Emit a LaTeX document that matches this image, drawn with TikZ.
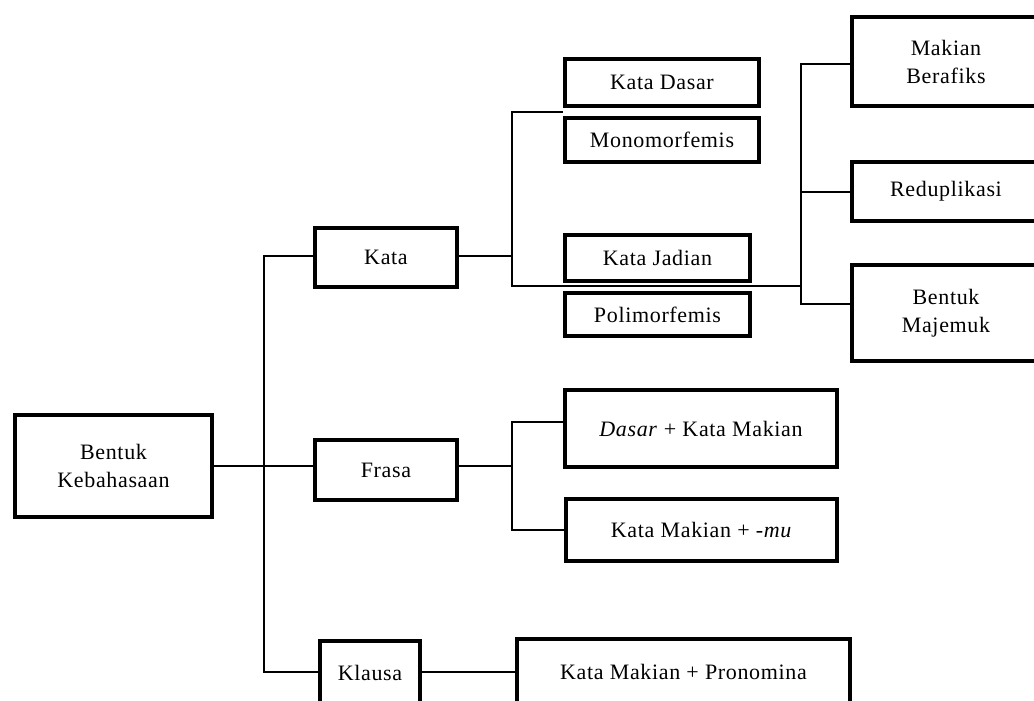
\documentclass[tikz,border=0pt]{standalone}
\usepackage{fontspec}
\setmainfont{Liberation Serif}[LetterSpace=3]
\begin{document}
\begin{tikzpicture}[x=1pt,y=-1pt,
  box/.style={draw=black, line width=4.4pt, inner sep=0pt, align=center, font=\fontsize{22}{28}\selectfont},
  ln/.style={line width=1.3pt}]
\useasboundingbox (0,0) rectangle (1034,701);
\fill[white] (0,0) rectangle (1034,701);
\clip (0,0) rectangle (1034,701);
% nodes
\node[box, minimum width=197, minimum height=102] (bk) at (113.5,466) {Bentuk\\Kebahasaan};
\node[box, minimum width=142, minimum height=59] (kata) at (386,257.5) {Kata};
\node[box, minimum width=142, minimum height=60] (frasa) at (386,470) {Frasa};
\node[box, minimum width=100, minimum height=64] (klausa) at (370,673) {Klausa};
\node[box, minimum width=333, minimum height=66] (pron) at (683.5,672) {Kata Makian + Pronomina};
\node[box, minimum width=194, minimum height=47] (kd) at (662,82.5) {Kata Dasar};
\node[box, minimum width=194, minimum height=44] (mono) at (662,140) {Monomorfemis};
\node[box, minimum width=185, minimum height=46] (kj) at (657.5,258) {Kata Jadian};
\node[box, minimum width=185, minimum height=43] (poli) at (657.5,314.5) {Polimorfemis};
\node[box, minimum width=188, minimum height=89] (mb) at (946,61.5) {Makian\\Berafiks};
\node[box, minimum width=188, minimum height=59] (red) at (946,191.5) {Reduplikasi};
\node[box, minimum width=188, minimum height=96] (bm) at (946,313) {Bentuk\\Majemuk};
\node[box, minimum width=272, minimum height=77] (dk) at (701,428.5) {\textit{Dasar} + Kata Makian};
\node[box, minimum width=271, minimum height=62] (km) at (701.5,530) {Kata Makian + \textit{-mu}};
% junction coordinates
\coordinate (t1) at (264,256);
\coordinate (t2) at (264,672);
\coordinate (y466) at (264,466);
\coordinate (kb) at (512,256);
\coordinate (k1) at (512,112);
\coordinate (k2) at (512,286);
\coordinate (r1) at (801,64);
\coordinate (r2) at (801,192);
\coordinate (r3) at (801,304);
\coordinate (rb) at (801,286);
\coordinate (f0) at (512,466);
\coordinate (f1) at (512,422);
\coordinate (f2) at (512,530);
% connectors
\draw[ln] (kata.west |- t1) -- (t1) -- (t2) -- (klausa.west |- t2);
\draw[ln] (bk.east |- y466) -- (frasa.west |- y466);
\draw[ln] (kata.east |- kb) -- (kb);
\draw[ln] (kd.west |- k1) -- (k1) -- (k2) -- (rb);
\draw[ln] (mb.west |- r1) -- (r1) -- (r3) -- (bm.west |- r3);
\draw[ln] (r2) -- (red.west |- r2);
\draw[ln] (frasa.east |- f0) -- (f0);
\draw[ln] (dk.west |- f1) -- (f1) -- (f2) -- (km.west |- f2);
\draw[ln] (klausa.east |- t2) -- (pron.west |- t2);
\end{tikzpicture}
\end{document}
